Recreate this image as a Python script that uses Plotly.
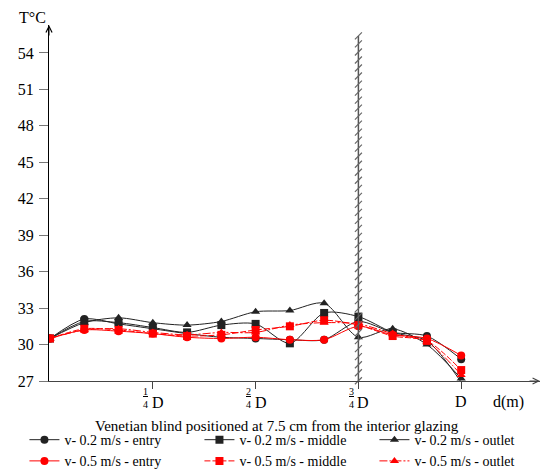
import numpy as np
import plotly.graph_objects as go

# positions along the cavity, in twelfths of D
d = list(range(13))

black_entry  = [30.5, 32.1, 31.7, 31.3, 30.9, 30.6, 30.5, 30.4, 30.4, 31.9, 31.0, 30.7, 28.8]
black_middle = [30.5, 31.9, 31.8, 31.4, 31.0, 31.6, 31.7, 30.1, 32.6, 32.3, 31.0, 30.3, 26.9]
black_outlet = [30.5, 31.8, 32.2, 31.8, 31.6, 31.9, 32.7, 32.8, 33.4, 30.6, 31.3, 30.0, 27.2]
red_entry    = [30.5, 31.2, 31.1, 30.9, 30.6, 30.5, 30.6, 30.4, 30.4, 31.5, 30.8, 30.5, 29.1]
red_middle   = [30.5, 31.3, 31.2, 30.9, 30.7, 30.8, 31.2, 31.5, 32.0, 31.6, 30.7, 30.3, 27.9]
red_outlet   = [30.5, 31.2, 31.3, 31.0, 30.8, 31.0, 31.0, 31.6, 31.8, 31.7, 30.9, 30.2, 27.5]

series_names = ["v- 0.2 m/s - entry", "v- 0.2 m/s - middle", "v- 0.2 m/s - outlet",
                "v- 0.5 m/s - entry", "v- 0.5 m/s - middle", "v- 0.5 m/s - outlet"]
y_ticks = [27, 30, 33, 36, 39, 42, 45, 48, 51, 54]
x_tick_pos = [3, 6, 9, 12]
x_tick_num = ["1", "2", "3", ""]
blind_pos = 9

FONT = "Liberation Serif, Times New Roman, serif"

fig = go.Figure()

series = [
    (black_entry, "#222222", "circle", "solid"),
    (black_middle, "#222222", "square", "solid"),
    (black_outlet, "#222222", "triangle-up", "solid"),
    (red_entry, "#ff0000", "circle", "solid"),
    (red_middle, "#ff0000", "square", "6px,2px"),
    (red_outlet, "#ff0000", "triangle-up", "8px,2px,2px,2px"),
]
for (vals, col, sym, dash), name in zip(series, series_names):
    fig.add_trace(go.Scatter(
        x=d, y=vals, name=name, mode="lines+markers",
        line=dict(color=col, width=1, shape="spline", smoothing=0.8, dash=dash),
        marker=dict(color=col, symbol=sym, size=8),
    ))

# venetian blind (hatched vertical line)
blind_y = np.linspace(25.7, 55.4, 46)
fig.add_trace(go.Scatter(
    x=[blind_pos] * len(blind_y), y=blind_y, mode="lines+markers",
    line=dict(color="#555555", width=1.5),
    marker=dict(symbol="line-ne", size=7, line=dict(color="#666666", width=1.2)),
    showlegend=False, hoverinfo="skip", cliponaxis=False,
))

annotations = []
# x tick labels as stacked fractions
for pos, num in zip(x_tick_pos, x_tick_num):
    if num:
        annotations.append(dict(x=pos, y=27, xref="x", yref="y", text="<u>" + num + "</u><br>4",
                                showarrow=False, xshift=-7, yshift=-17, xanchor="center",
                                font=dict(family=FONT, size=10, color="black")))
        annotations.append(dict(x=pos, y=27, xref="x", yref="y", text="D",
                                showarrow=False, xshift=5, yshift=-21, xanchor="center",
                                font=dict(family=FONT, size=16, color="black")))
    else:
        annotations.append(dict(x=pos, y=27, xref="x", yref="y", text="D",
                                showarrow=False, yshift=-20, xanchor="center",
                                font=dict(family=FONT, size=16, color="black")))

annotations += [
    dict(x=0.935, y=-0.059, xref="paper", yref="paper", text="d(m)", showarrow=False,
         xanchor="center", yanchor="middle",
         font=dict(family=FONT, size=16, color="black")),
    dict(x=0.464, y=-0.126, xref="paper", yref="paper",
         text="Venetian blind positioned at 7.5 cm from the interior glazing", showarrow=False,
         xanchor="center", yanchor="middle",
         font=dict(family=FONT, size=15, color="black")),
    dict(x=-0.033, y=1.022, xref="paper", yref="paper", text="T°C", showarrow=False,
         xanchor="center", yanchor="middle",
         font=dict(family=FONT, size=16, color="black")),
    # axis arrows
    dict(x=1, y=0, xref="paper", yref="paper", ax=-12, ay=0, text="", showarrow=True,
         arrowhead=5, arrowsize=1.2, arrowwidth=1, arrowcolor="#444444"),
    dict(x=0, y=1, xref="paper", yref="paper", ax=0, ay=12, text="", showarrow=True,
         arrowhead=5, arrowsize=1.2, arrowwidth=1, arrowcolor="#000000"),
]

fig.update_layout(
    width=551, height=470,
    margin=dict(l=49, r=11, t=25, b=89, autoexpand=False),
    plot_bgcolor="white", paper_bgcolor="white",
    font=dict(family=FONT, size=15, color="black"),
    xaxis=dict(range=[-0.03, 14.3], tickvals=x_tick_pos, ticktext=[""] * 4,
               ticks="outside", ticklen=7, tickcolor="#444444",
               showline=True, linecolor="#444444", linewidth=1,
               showgrid=False, zeroline=False, fixedrange=True),
    yaxis=dict(range=[27, 56.3], tickvals=y_ticks, ticks="outside", ticklen=9,
               tickcolor="#777777", showline=True, linecolor="black", linewidth=1,
               showgrid=False, zeroline=False, tickfont=dict(family=FONT, size=16),
               ticklabelstandoff=2),
    legend=dict(orientation="h", x=-0.05, xanchor="left", y=-0.121, yanchor="top",
                entrywidth=130, entrywidthmode="pixels", font=dict(family=FONT, size=14),
                tracegroupgap=0, itemwidth=30),
    annotations=annotations,
    showlegend=True,
)

fig.write_html("out.html")
